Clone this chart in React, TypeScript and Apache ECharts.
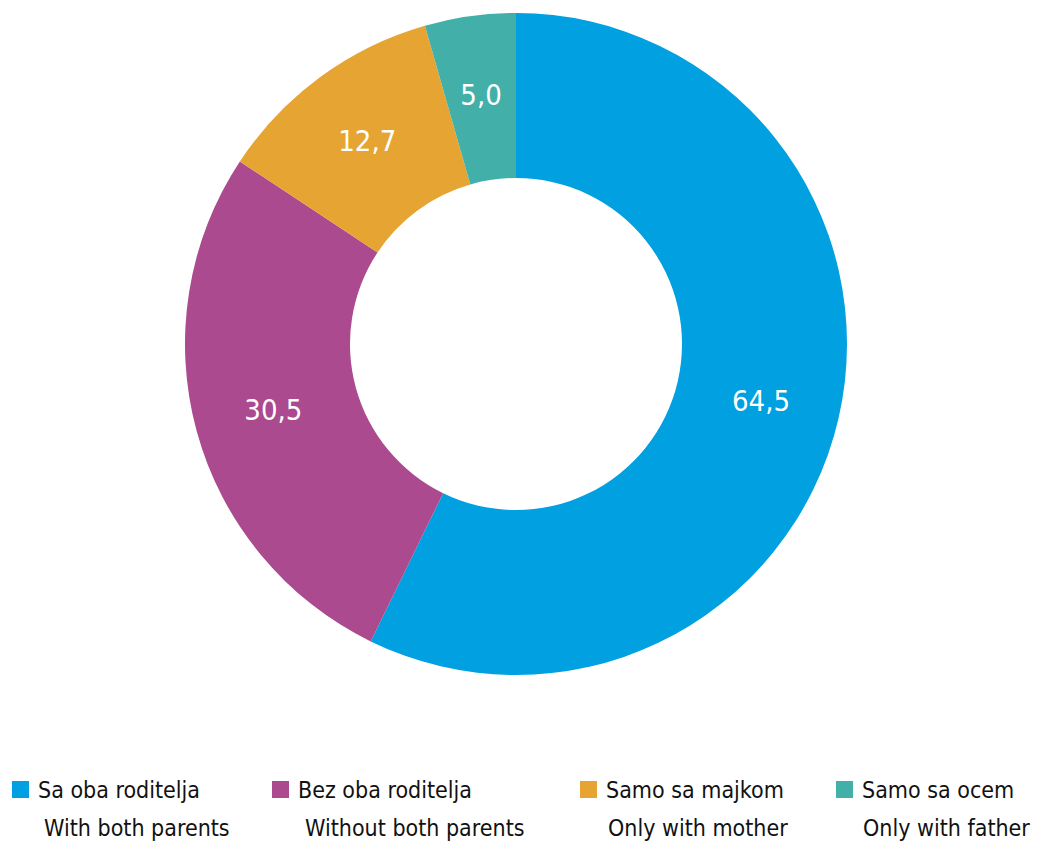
import React, { useEffect, useRef } from "react";
import * as echarts from "echarts";

const names = ["Sa oba roditelja", "Bez oba roditelja", "Samo sa majkom", "Samo sa ocem"];
const namesEn = ["With both parents", "Without both parents", "Only with mother", "Only with father"];
const values = [64.5, 30.5, 12.7, 5.0];
const colors = ["#00A0E1", "#AB4A8E", "#E6A533", "#42B0A9"];
const legendLeft = [12, 272, 580, 836];
const line2Left = [44, 305, 608, 863];

const FONT = "'DejaVu Sans Condensed', 'Liberation Sans Narrow', sans-serif";

export default function App() {
  const ref = useRef<HTMLDivElement>(null);
  useEffect(() => {
    if (!ref.current) return;
    const chart = echarts.init(ref.current, undefined, { renderer: "svg" });
    chart.setOption({
      animation: false,
      color: colors,
      legend: names.map((n, i) => ({
        data: [n],
        left: legendLeft[i],
        top: 778,
        orient: "horizontal",
        itemWidth: 17,
        itemHeight: 17,
        icon: "rect",
        itemGap: 0,
        padding: 0,
        selectedMode: false,
        textStyle: {
          fontFamily: FONT,
          fontSize: 23,
          color: "#111111",
          padding: [0, 0, 0, 4],
        },
      })),
      graphic: namesEn.map((t, i) => ({
        type: "text",
        x: line2Left[i],
        y: 828,
        silent: true,
        style: {
          text: t,
          fill: "#111111",
          font: `23px ${FONT}`,
          verticalAlign: "middle",
          align: "left",
        },
      })),
      series: [
        {
          type: "pie",
          center: [516, 344],
          radius: [166, 331],
          startAngle: 90,
          clockwise: true,
          itemStyle: { borderWidth: 0 },
          label: {
            show: true,
            position: "inside",
            color: "#ffffff",
            fontFamily: FONT,
            fontSize: 29,
            formatter: (p: any) => p.value.toFixed(1).replace(".", ","),
          },
          labelLine: { show: false },
          emphasis: { disabled: true },
          data: names.map((n, i) => ({ name: n, value: values[i] })),
        },
      ],
    });
    return () => chart.dispose();
  }, []);
  return (
    <div
      ref={ref}
      style={{ position: "fixed", left: 0, top: 0, width: 1037, height: 843, background: "#ffffff" }}
    />
  );
}
